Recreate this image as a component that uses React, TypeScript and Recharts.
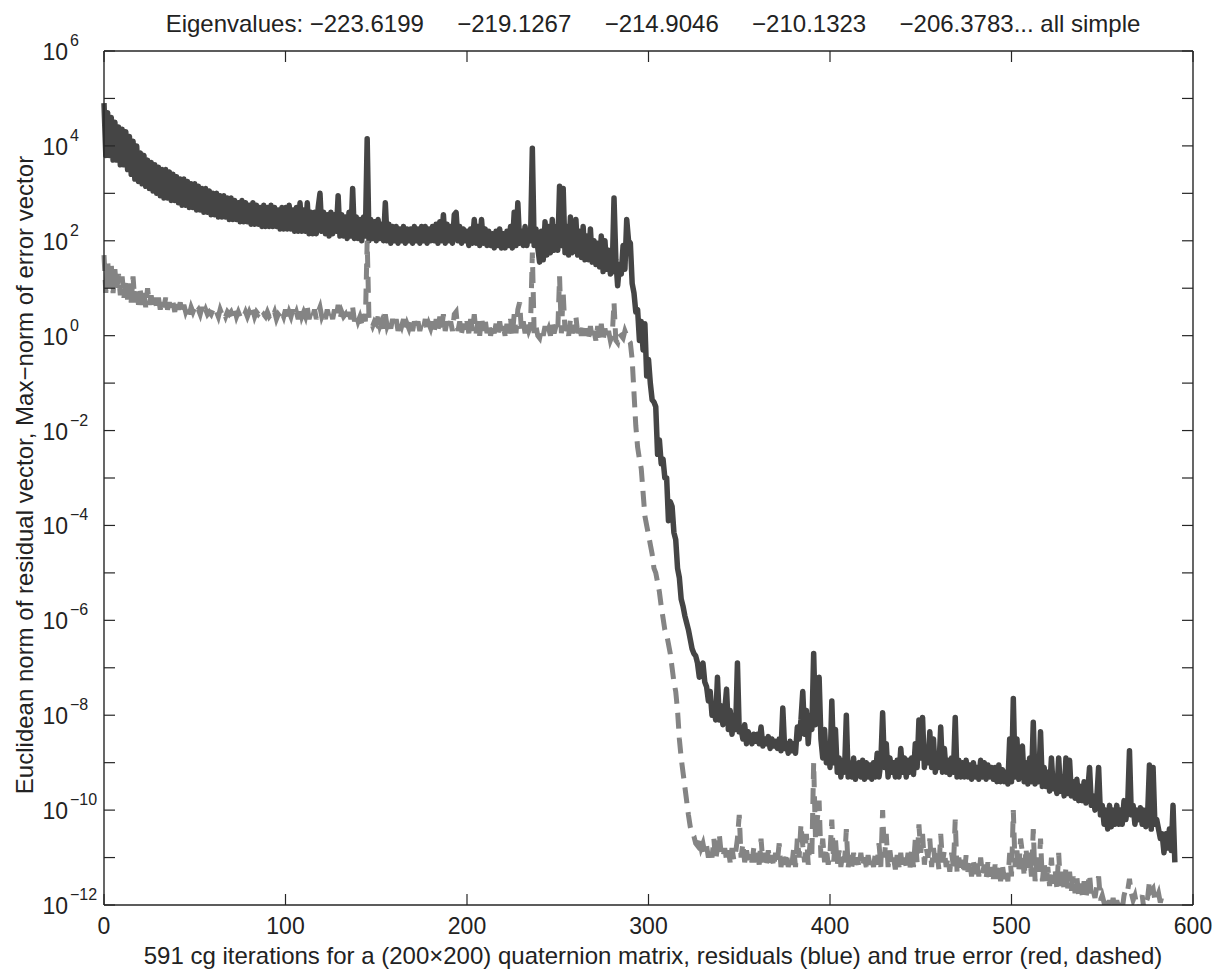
import { LineChart, Line, XAxis, YAxis, ReferenceLine } from "recharts";

// log10 of the residual norm, iteration 0..590
const RES_LOG10 = [
  4.9, 3.8, 4.7, 3.8, 4.6, 3.7, 4.5, 3.7, 4.4, 3.6,
  4.35, 3.6, 4.3, 3.5, 4.2, 3.4, 4.1, 3.3, 4.0, 3.25,
  3.85, 3.2, 3.8, 3.15, 3.7, 3.1, 3.65, 3.05, 3.6, 3.0,
  3.55, 2.95, 3.5, 2.9, 3.5, 2.9, 3.45, 2.85, 3.4, 2.85,
  3.35, 2.8, 3.3, 2.75, 3.3, 2.75, 3.25, 2.7, 3.2, 2.7,
  3.2, 2.65, 3.15, 2.65, 3.1, 2.6, 3.1, 2.6, 3.05, 2.55,
  3.0, 2.55, 3.0, 2.5, 2.95, 2.5, 2.95, 2.5, 2.9, 2.45,
  2.9, 2.45, 2.85, 2.45, 2.8, 2.4, 2.85, 2.4, 2.8, 2.4,
  2.75, 2.35, 2.8, 2.35, 2.75, 2.35, 2.7, 2.3, 2.75, 2.3,
  2.7, 2.3, 2.75, 2.3, 2.7, 2.3, 2.65, 2.25, 2.7, 2.25,
  2.7, 2.25, 2.75, 2.25, 2.65, 2.2, 2.7, 2.2, 2.8, 2.2,
  2.65, 2.2, 2.8, 2.15, 2.6, 2.15, 2.6, 2.15, 2.7, 3.0,
  2.2, 2.6, 2.15, 2.55, 2.1, 2.6, 2.15, 2.55, 2.2, 2.95,
  2.1, 2.55, 2.1, 2.5, 2.05, 2.6, 2.1, 3.1, 2.05, 2.5,
  2.05, 2.45, 2.0, 2.5, 2.1, 4.15, 2.0, 2.45, 2.05, 2.4,
  2.0, 2.45, 2.05, 2.35, 2.0, 2.8, 2.0, 2.35, 1.95, 2.3,
  2.0, 2.3, 1.95, 2.25, 2.0, 2.3, 1.95, 2.25, 2.0, 2.25,
  1.95, 2.3, 2.0, 2.25, 1.95, 2.3, 2.0, 2.3, 1.95, 2.25,
  2.0, 2.3, 2.0, 2.35, 1.95, 2.4, 2.0, 2.55, 1.95, 2.35,
  2.0, 2.3, 1.95, 2.55, 2.6, 2.0, 2.3, 1.95, 2.25, 2.0,
  2.2, 1.9, 2.25, 1.95, 2.45, 1.95, 2.3, 1.9, 2.45, 1.95,
  2.25, 1.9, 2.2, 1.9, 2.15, 1.85, 2.2, 1.9, 2.25, 1.85,
  2.15, 1.85, 2.2, 1.9, 2.3, 1.85, 2.6, 1.9, 2.8, 1.95,
  2.2, 1.9, 2.3, 1.9, 2.2, 2.0, 3.95, 1.9, 2.25, 1.85,
  1.55, 2.2, 1.6, 2.4, 1.7, 2.3, 1.75, 2.45, 1.8, 2.3,
  1.8, 3.15, 1.9, 3.1, 1.75, 2.3, 1.7, 2.5, 1.75, 2.2,
  2.45, 1.7, 2.2, 1.65, 2.3, 1.6, 2.1, 1.6, 2.25, 1.55,
  2.0, 1.5, 1.95, 1.45, 2.1, 1.35, 2.0, 1.4, 1.8, 1.3,
  1.35, 2.9, 1.6, 1.05, 1.5, 1.3, 1.9, 1.4, 2.45, 2.0,
  1.95, 1.1, 0.9, 0.5, 0.55, -0.1, 0.3, -0.3, 0.25, -0.85,
  -0.5, -1.0, -1.35, -1.4, -1.5, -2.5, -2.2, -2.7, -2.6, -3.0,
  -3.0, -3.9, -3.5, -3.6, -4.15, -4.3, -4.9, -5.1, -5.55, -5.7,
  -5.9, -6.05, -6.2, -6.4, -6.6, -6.7, -6.75, -6.9, -7.2, -7.0,
  -6.9, -7.3, -7.4, -7.7, -7.5, -8.0, -7.8, -8.1, -7.2, -8.1,
  -7.8, -8.2, -7.9, -7.45, -8.3, -7.9, -8.4, -8.0, -8.3, -6.9,
  -8.35, -8.3, -8.5, -8.2, -8.6, -8.35, -8.5, -8.6, -8.4, -8.55,
  -8.4, -8.6, -8.25, -8.65, -8.5, -8.6, -8.45, -8.7, -8.5, -8.65,
  -8.55, -8.7, -8.5, -8.75, -7.85, -8.7, -8.6, -8.8, -8.55, -8.75,
  -8.6, -8.8, -8.25, -8.5, -8.1, -7.5, -8.4, -7.9, -8.6, -8.0,
  -8.3, -6.7, -8.2, -7.8, -7.2, -8.5, -8.9, -8.3, -9.0, -8.6,
  -9.1, -7.7, -9.0, -8.3, -9.2, -8.9, -9.3, -8.95, -9.2, -8.0,
  -9.3, -9.0, -9.3, -8.9, -9.35, -9.1, -9.0, -9.3, -8.95, -9.35,
  -9.0, -9.3, -9.05, -9.35, -9.0, -9.3, -8.8, -9.3, -9.0, -7.95,
  -9.1, -8.6, -9.3, -8.9, -9.2, -9.0, -9.3, -8.95, -9.3, -8.7,
  -9.2, -8.9, -9.3, -8.95, -9.2, -8.9, -9.25, -8.6, -9.1, -8.1,
  -8.9, -8.05, -9.1, -8.7, -9.0, -8.35, -9.1, -8.5, -9.2, -8.9,
  -9.1, -8.25, -9.2, -8.7, -9.2, -8.95, -9.25, -8.9, -9.2, -8.05,
  -9.3, -8.95, -9.3, -9.0, -9.3, -8.95, -9.3, -9.05, -9.35, -9.0,
  -9.3, -9.1, -9.35, -8.95, -9.3, -9.0, -9.35, -9.05, -9.3, -9.1,
  -9.35, -9.1, -9.4, -9.05, -9.4, -9.15, -9.4, -9.2, -9.45, -8.5,
  -9.4, -7.65, -9.3, -8.5, -9.35, -8.7, -8.65, -9.4, -9.0, -9.45,
  -8.9, -9.4, -8.15, -9.45, -9.0, -9.4, -8.35, -9.5, -9.1, -9.5,
  -9.2, -9.6, -8.9, -9.55, -9.3, -9.65, -8.9, -9.6, -9.3, -9.7,
  -8.9, -9.65, -8.95, -9.7, -9.4, -9.75, -9.35, -9.8, -9.5, -9.8,
  -9.4, -9.85, -9.6, -9.1, -9.9, -9.7, -10.0, -9.75, -9.1, -10.1,
  -9.9, -10.3, -10.0, -10.4, -9.9, -10.35, -10.0, -10.3, -9.9, -10.3,
  -10.0, -10.3, -9.8, -10.2, -9.9, -8.75, -10.1, -9.9, -10.3, -10.0,
  -10.2, -9.95, -10.3, -10.0, -10.35, -10.1, -9.05, -10.4, -9.1, -10.3,
  -10.2, -10.4, -10.6, -10.5, -10.9, -10.5, -10.8, -10.4, -10.85, -9.9,
  -11.1,
];

// log10 of the max-norm of the true error, iteration 0..584 (below 1e-12 afterwards)
const ERR_LOG10 = [
  1.7, 0.9, 1.6, 1.0, 1.5, 0.9, 1.4, 0.95, 1.3, 0.85,
  1.25, 0.8, 1.2, 0.75, 1.1, 0.7, 1.25, 0.7, 1.0, 0.65,
  0.95, 0.65, 0.9, 0.6, 1.0, 0.65, 0.85, 0.6, 0.8, 0.6,
  0.8, 0.55, 0.75, 0.6, 0.8, 0.55, 0.7, 0.55, 0.7, 0.5,
  0.75, 0.55, 0.7, 0.5, 0.65, 0.5, 0.6, 0.45, 0.6, 0.5,
  0.6, 0.5, 0.55, 0.45, 0.6, 0.45, 0.55, 0.45, 0.5, 0.45,
  0.55, 0.45, 0.5, 0.4, 0.55, 0.45, 0.5, 0.4, 0.5, 0.45,
  0.5, 0.4, 0.55, 0.4, 0.5, 0.4, 0.45, 0.4, 0.5, 0.4,
  0.5, 0.4, 0.55, 0.4, 0.5, 0.45, 0.5, 0.4, 0.45, 0.4,
  0.5, 0.4, 0.45, 0.4, 0.5, 0.35, 0.45, 0.4, 0.5, 0.4,
  0.55, 0.35, 0.5, 0.4, 0.55, 0.4, 0.5, 0.35, 0.6, 0.4,
  0.5, 0.4, 0.6, 0.35, 0.5, 0.4, 0.55, 0.35, 0.5, 0.6,
  0.4, 0.5, 0.35, 0.55, 0.4, 0.5, 0.35, 0.55, 0.4, 0.65,
  0.35, 0.5, 0.4, 0.45, 0.3, 0.5, 0.35, 0.6, 0.3, 0.45,
  0.3, 0.4, 0.25, 0.45, 0.3, 2.0, 0.35, 0.3, 0.2, 0.3,
  0.25, 0.4, 0.2, 0.3, 0.15, 0.45, 0.2, 0.3, 0.15, 0.35,
  0.2, 0.35, 0.1, 0.3, 0.2, 0.35, 0.1, 0.25, 0.15, 0.3,
  0.1, 0.3, 0.15, 0.3, 0.1, 0.25, 0.15, 0.35, 0.1, 0.25,
  0.15, 0.3, 0.1, 0.35, 0.1, 0.4, 0.15, 0.45, 0.1, 0.3,
  0.15, 0.3, 0.1, 0.45, 0.5, 0.1, 0.3, 0.05, 0.25, 0.1,
  0.3, 0.05, 0.35, 0.1, 0.45, 0.05, 0.3, 0.0, 0.4, 0.1,
  0.35, 0.05, 0.25, 0.0, 0.2, 0.05, 0.25, 0.0, 0.3, 0.05,
  0.2, 0.0, 0.25, 0.05, 0.35, 0.0, 0.45, 0.05, 0.55, 0.7,
  0.1, 0.3, 0.05, 0.25, 0.1, 0.2, 1.75, 0.05, 0.2, 0.0,
  -0.05, 0.15, 0.0, 0.2, 0.05, 0.15, 0.0, 0.3, 0.05, 0.2,
  0.1, 1.25, 0.05, 0.9, 0.1, 0.2, 0.0, 0.35, 0.05, 0.2,
  0.4, 0.05, 0.2, 0.0, 0.25, 0.0, 0.15, -0.05, 0.2, -0.05,
  0.1, -0.1, 0.2, -0.05, 0.25, -0.1, 0.15, -0.05, 0.1, -0.1,
  0.0, 0.7, -0.1, -0.15, 0.05, 0.0, -0.05, 0.1, 0.0, -0.1,
  -0.15, -0.5, -1.2, -1.9, -2.35, -2.6, -2.8, -3.3, -3.8, -4.0,
  -4.2, -4.4, -4.6, -4.9, -5.0, -5.2, -5.4, -5.7, -5.95, -6.2,
  -6.3, -6.5, -6.7, -7.0, -7.3, -7.5, -7.9, -8.5, -8.9, -9.2,
  -9.5, -9.8, -10.1, -10.35, -10.5, -10.55, -10.7, -10.75, -10.6, -10.8,
  -10.7, -10.9, -10.75, -11.0, -10.8, -11.0, -10.6, -11.05, -10.8, -10.5,
  -10.9, -11.0, -10.8, -11.05, -10.85, -11.1, -10.8, -11.05, -10.9, -10.6,
  -10.1, -11.0, -10.7, -11.1, -10.85, -11.05, -10.9, -11.1, -10.8, -11.1,
  -10.9, -11.15, -10.6, -11.1, -10.9, -11.15, -10.85, -11.1, -10.95, -11.2,
  -10.9, -11.1, -10.7, -11.2, -10.95, -11.15, -10.9, -11.2, -11.0, -11.15,
  -10.8, -11.2, -10.6, -11.0, -10.3, -10.75, -11.1, -10.5, -11.15, -10.7,
  -10.95, -9.0, -10.6, -10.2, -9.8, -11.0, -10.6, -11.1, -10.8, -11.15,
  -10.9, -10.2, -11.1, -10.6, -11.15, -10.85, -11.2, -10.9, -11.1, -10.4,
  -11.2, -10.95, -11.2, -10.9, -11.15, -11.0, -11.2, -10.9, -11.2, -11.0,
  -11.2, -10.95, -11.15, -11.0, -11.2, -10.9, -11.15, -10.7, -11.2, -10.0,
  -11.0, -10.5, -11.2, -10.85, -11.15, -11.0, -11.25, -10.95, -11.2, -10.9,
  -11.25, -11.0, -11.2, -10.9, -11.25, -10.8, -11.2, -10.6, -11.1, -10.3,
  -10.9, -10.5, -11.15, -10.8, -11.0, -10.6, -11.2, -10.8, -11.1, -10.9,
  -11.25, -10.5, -11.1, -10.85, -11.2, -11.0, -11.3, -10.9, -11.2, -10.2,
  -11.3, -11.0, -11.3, -11.05, -11.35, -10.95, -11.3, -11.1, -11.4, -11.05,
  -11.35, -11.1, -11.4, -11.0, -11.35, -11.15, -11.45, -11.1, -11.4, -11.2,
  -11.45, -11.15, -11.45, -11.2, -11.5, -11.15, -11.45, -11.25, -11.5, -10.9,
  -11.4, -10.0, -11.2, -10.85, -11.3, -10.6, -10.9, -11.4, -10.8, -11.3,
  -10.9, -11.4, -10.4, -11.5, -11.0, -11.3, -10.6, -11.5, -11.1, -11.55,
  -11.2, -11.6, -11.0, -11.55, -11.25, -11.65, -10.9, -11.6, -11.3, -11.7,
  -11.2, -11.65, -11.3, -11.7, -11.4, -11.75, -11.4, -11.8, -11.55, -11.8,
  -11.5, -11.85, -11.6, -11.35, -11.8, -11.7, -11.85, -11.6, -11.4, -11.9,
  -11.8, -11.95, -11.85, -12.1, -11.9, -12.05, -11.85, -12.1, -11.9, -12.05,
  -11.95, -12.1, -11.8, -11.65, -11.7, -11.45, -11.75, -11.9, -11.8, -12.0,
  -12.2, -11.9, -11.8, -12.1, -11.95, -11.85, -11.5, -11.7, -11.65, -11.9,
  -11.85, -11.75, -11.95, -11.8, -11.9,
];

const X_TICKS = [0, 100, 200, 300, 400, 500, 600];
const Y_EXPONENTS = [-12, -11, -10, -9, -8, -7, -6, -5, -4, -3, -2, -1, 0, 1, 2, 3, 4, 5, 6];

const TITLE =
  "Eigenvalues: \u2212223.6199     \u2212219.1267     \u2212214.9046     \u2212210.1323     \u2212206.3783... all simple";
const X_LABEL =
  "591 cg iterations for a (200\u00d7200) quaternion matrix, residuals (blue) and true error (red, dashed)";
const Y_LABEL = "Euclidean norm of residual vector, Max\u2212norm of error vector";

const data = RES_LOG10.map((r, it) => ({
  it,
  residual: Math.pow(10, r),
  error: it < ERR_LOG10.length ? Math.pow(10, ERR_LOG10[it]) : null,
}));

const W = 1223;
const H = 974;
const PLOT_W = 1089;
const PLOT_H = 854;
const TICK_LEN = 11;
const AXIS = "#262626";
const FONT = "'Liberation Sans', Arial, Helvetica, sans-serif";

function XTick(props: any) {
  const { x, y, payload } = props;
  return (
    <g>
      <line x1={x} x2={x} y1={y} y2={y - TICK_LEN} stroke={AXIS} strokeWidth={1.2} />
      <line x1={x} x2={x} y1={y - PLOT_H} y2={y - PLOT_H + TICK_LEN} stroke={AXIS} strokeWidth={1.2} />
      <text x={x} y={y + 29} textAnchor="middle" fontSize={23} fontFamily={FONT} fill="#222">
        {payload.value}
      </text>
    </g>
  );
}

function YTick(props: any) {
  const { x, y, payload } = props;
  const e = Math.round(Math.log10(payload.value));
  return (
    <g>
      <line x1={x} x2={x + TICK_LEN} y1={y} y2={y} stroke={AXIS} strokeWidth={1.2} />
      <line x1={x + PLOT_W - TICK_LEN} x2={x + PLOT_W} y1={y} y2={y} stroke={AXIS} strokeWidth={1.2} />
      {e % 2 === 0 && (
        <g fontFamily={FONT} fill="#222">
          <text x={x - 36} y={y + 9} textAnchor="end" fontSize={23}>
            10
          </text>
          <text x={x - 34} y={y - 5} textAnchor="start" fontSize={16}>
            {e < 0 ? "\u2212" + -e : String(e)}
          </text>
        </g>
      )}
    </g>
  );
}

export default function App() {
  return (
    <div style={{ position: "absolute", left: 0, top: 0, width: W, height: H, background: "#fff" }}>
      <LineChart width={W} height={H} data={data} margin={{ top: 51, right: 30, bottom: 29, left: 44 }}>
        <XAxis
          dataKey="it"
          type="number"
          domain={[0, 600]}
          ticks={X_TICKS}
          interval={0}
          height={40}
          tickSize={0}
          tickMargin={0}
          tickLine={false}
          axisLine={{ stroke: AXIS, strokeWidth: 1.4 }}
          tick={(p: any) => <XTick {...p} />}
        />
        <YAxis
          type="number"
          scale="log"
          domain={[1e-12, 1e6]}
          allowDataOverflow
          ticks={Y_EXPONENTS.map((e) => Math.pow(10, e))}
          interval={0}
          width={60}
          tickSize={0}
          tickMargin={0}
          tickLine={false}
          axisLine={{ stroke: AXIS, strokeWidth: 1.4 }}
          tick={(p: any) => <YTick {...p} />}
        />
        <ReferenceLine y={1e6} stroke={AXIS} strokeWidth={1.4} />
        <ReferenceLine x={600} stroke={AXIS} strokeWidth={1.4} />
        <Line
          dataKey="residual"
          type="linear"
          stroke="#454545"
          strokeWidth={5.5}
          strokeLinejoin="round"
          dot={false}
          activeDot={false}
          isAnimationActive={false}
        />
        <Line
          dataKey="error"
          type="linear"
          stroke="#848484"
          strokeWidth={5}
          strokeDasharray="16 9"
          dot={false}
          activeDot={false}
          isAnimationActive={false}
        />
      </LineChart>
      <svg
        width={W}
        height={H}
        style={{ position: "absolute", left: 0, top: 0, pointerEvents: "none" }}
        fontFamily={FONT}
        fill="#222"
      >
        <text x={653} y={32} textAnchor="middle" fontSize={24} xmlSpace="preserve" style={{ whiteSpace: "pre" }}>
          {TITLE}
        </text>
        <text x={653} y={964} textAnchor="middle" fontSize={24}>
          {X_LABEL}
        </text>
        <text x={33} y={475} textAnchor="middle" fontSize={24} transform="rotate(-90 33 475)">
          {Y_LABEL}
        </text>
      </svg>
    </div>
  );
}
